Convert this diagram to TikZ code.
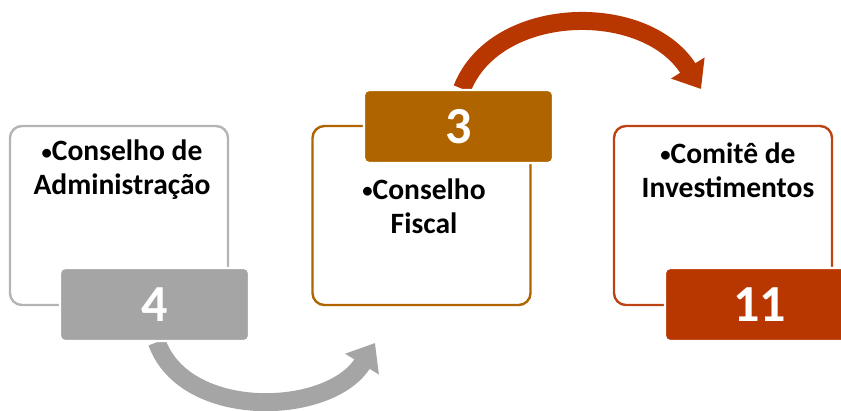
\documentclass[tikz,border=0pt]{standalone}
\usepackage{fontspec}
\setmainfont{Carlito}
\usetikzlibrary{arrows.meta,positioning,backgrounds}
\definecolor{boxgray}{HTML}{A5A5A5}
\definecolor{linegray}{HTML}{B4B4B4}
\definecolor{boxbrown}{HTML}{AF6400}
\definecolor{boxred}{HTML}{B83700}
\definecolor{linered}{HTML}{BC4414}
\newcommand{\dotmark}{\raisebox{0.05em}{\scalebox{0.7}{•}}}

\begin{document}
\begin{tikzpicture}[x=0.025cm,y=-0.025cm,
    frame/.style={draw,line width=0.06cm,rounded corners=0.3cm,minimum width=5.45cm,minimum height=4.475cm},
    tab/.style={draw=white,line width=0.06cm,rounded corners=0.12cm,minimum width=4.725cm,minimum height=1.825cm,
        text=white,font=\bfseries\fontsize{37}{40}\selectfont},
    nametext/.style={align=center,font=\bfseries\fontsize{21}{24.2}\selectfont},
    curvearrow/.style={line width=0.45cm,-{Triangle[width=0.95cm,length=0.62cm]}}]
    \useasboundingbox (0,0) rectangle (841,410);
    \node [frame,linegray] (B1) at (119,215.5) {};
    \node [frame,boxbrown] (B2) at (421.5,215.5) {};
    \node [frame,linered] (B3) at (723,215.5) {};
    \node [nametext] (L1) at (122,170) {\dotmark Conselho de\\Administração};
    \node [nametext] (L2) at (424,206) {\dotmark Conselho\\Fiscal};
    \node [nametext] (L3) at (728,170) {\dotmark Comitê de\\Investimentos};
    \node [tab,fill=boxgray] (T1) at (154.5,304.5) {4};
    \node [tab,fill=boxbrown] (T2) at (458.5,126.5) {3};
    \node [tab,fill=boxred] (T3) at (759.5,304.5) {11};
    \coordinate (G2) at (375,343);
    \coordinate (R3) at (701,89);
    \begin{scope}[on background layer]
    \draw [curvearrow,boxgray] ([xshift=0.06cm]T1.south) .. controls (185,421) and (330,416) .. (G2);
    \draw [curvearrow,boxred] ([xshift=0.09cm]T2.north) .. controls (495,4) and (645,0) .. (R3);
    \end{scope}
\end{tikzpicture}
\end{document}
